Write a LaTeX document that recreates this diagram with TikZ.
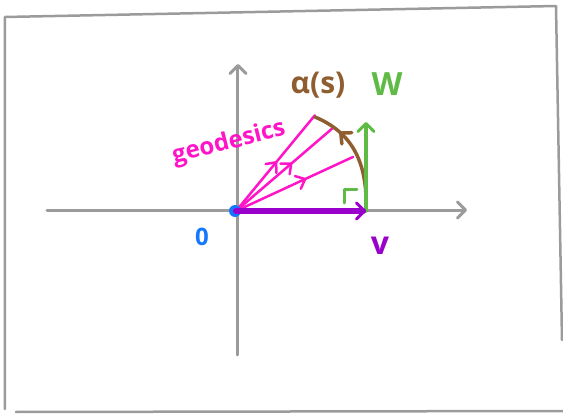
\documentclass[tikz,border=0pt]{standalone}
\usepackage{fontspec}
\setmainfont{Open Sans}
\usetikzlibrary{arrows.meta}
\usetikzlibrary{decorations.markings}

\definecolor{axisgray}{RGB}{155,155,155}
\definecolor{curvebrown}{RGB}{143,94,48}
\definecolor{wgreen}{RGB}{96,186,70}
\definecolor{geopink}{RGB}{255,20,200}
\definecolor{vpurple}{RGB}{153,0,204}
\definecolor{oblue}{RGB}{20,120,255}

\tikzset{
  sketchtip/.style={-{Straight Barb[length=8pt,width=16pt,line width=3pt,round]}},
  midarrow/.style={postaction={decorate},
    decoration={markings,mark=at position #1 with {\arrow{Straight Barb[length=8pt,width=14pt,line width=2.5pt,round]}}}},
  axisline/.style={axisgray,line width=3pt,sketchtip},
  geoline/.style={geopink,line width=2.5pt},
  handfont/.style={font=\bfseries\fontsize{#1}{#1}\selectfont}
}

\begin{document}
\begin{tikzpicture}[x=100pt,y=100pt,line cap=round,line join=round]
        \useasboundingbox (-2.36,-2.04) rectangle (3.27,2.11);

        % frame
        \coordinate (F1) at (-2.31,-1.98);
        \coordinate (F2) at (-2.31,1.94);
        \coordinate (F3) at (3.20,2.05);
        \coordinate (F4) at (3.26,-1.29);
        \coordinate (F5) at (-2.20,-2.01);
        \coordinate (F6) at (3.27,-2.00);
        \draw[axisgray,line width=2.5pt] (F1)--(F2)--(F3)--(F4);
        \draw[axisgray,line width=2.5pt] (F5)--(F6);

        % axes
        \coordinate (O) at (0,0);
        \draw[axisline] (-1.89,0.01)--(2.31,0.01);
        \draw[axisline] (0.02,-1.44)--(0.02,1.47);

        % geodesics
        \foreach \n/\ang/\len/\pos in {1/50.5/1.24/0.52,2/40.6/1.28/0.58,3/24.8/1.29/0.6}
        {
          \coordinate (G\n) at (\ang:\len);
          \draw[geoline,midarrow=\pos] (O)--(G\n);
        }

        \fill[oblue] (-0.01,0) circle (6pt);

        \coordinate (V) at (1.30,0);
        \coordinate (W) at (1.30,0.89);
        \coordinate (A) at (0.79,0.94);

        \draw[curvebrown,line width=3.5pt,
          postaction={decorate},
          decoration={markings,mark=at position 0.75 with {\arrow{Straight Barb[length=8pt,width=15pt,line width=3.5pt,round]}}}]
          (V) .. controls (1.32,0.5) and (1.15,0.79) .. (A);

        \draw[wgreen,line width=3pt] (1.09,0.08)--(1.09,0.21)--(1.21,0.21);
        \draw[wgreen,line width=3.5pt,sketchtip] (V)--(W);
        \draw[vpurple,line width=6pt,sketchtip] (O)--(V);

        \node[text=curvebrown,handfont=30] (alabel) at (0.82,1.26) {α(s)};
        \node[text=wgreen,handfont=32] (wlabel) at (1.51,1.27) {W};
        \node[text=geopink,handfont=24,rotate=14] (glabel) at (-0.07,0.68) {geodesics};
        \node[text=oblue,handfont=24] (olabel) at (-0.34,-0.26) {0};
        \node[text=vpurple,handfont=32] (vlabel) at (1.44,-0.35) {v};
    \end{tikzpicture}
\end{document}
